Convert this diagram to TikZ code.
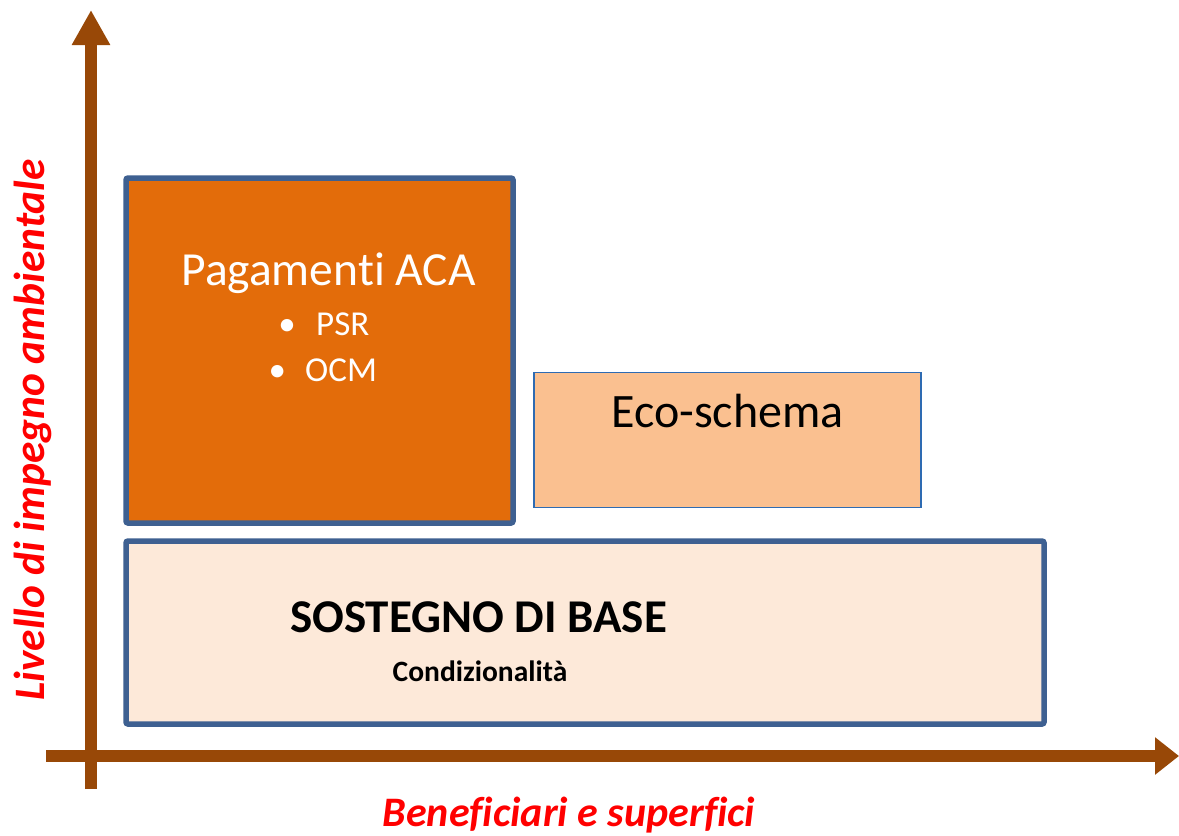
\documentclass[tikz,border=0pt]{standalone}
\usepackage{fontspec}
\setmainfont[Ligatures=CommonOff]{Carlito}
\usetikzlibrary{arrows.meta}
\definecolor{axisbrown}{HTML}{984807}
\definecolor{acaorange}{HTML}{E36C0A}
\definecolor{boxblue}{HTML}{3E6091}
\definecolor{ecoblue}{HTML}{2E6BB2}
\definecolor{ecofill}{HTML}{FAC090}
\definecolor{basefill}{HTML}{FDE9D9}
\definecolor{labelred}{HTML}{FF0000}
\tikzset{
  axisline/.style={draw=axisbrown, line width=12pt},
  bigbox/.style={draw=boxblue, line width=5.5pt, rounded corners=2pt, anchor=north west, inner sep=0pt, outer sep=0pt},
  ecobox/.style={draw=ecoblue, line width=1.4pt, fill=ecofill, anchor=north west, inner sep=0pt, outer sep=0pt},
  axislabel/.style={text=labelred, font=\fontsize{42}{46}\selectfont\bfseries\itshape, inner sep=0pt},
  txt/.style={inner sep=0pt, anchor=base},
  acatxt/.style={txt, text=white, font=\fontsize{35}{40}\selectfont}
}
\begin{document}
\begin{tikzpicture}[x=1pt,y=-1pt]
\useasboundingbox (0,0) rectangle (1179,836);
% axes
\coordinate (ybot) at (91,789);
\coordinate (ytop) at (91,10);
\coordinate (xleft) at (46,756);
\coordinate (xright) at (1179,756);
\draw[axisline, -{Triangle[length=35pt,width=36pt]}] (ybot) -- (ytop);
\draw[axisline, -{Triangle[length=24pt,width=36pt]}] (xleft) -- (xright);
% boxes
\node[bigbox, fill=acaorange, minimum width=387pt, minimum height=345pt] (aca) at (126,178) {};
\node[ecobox, minimum width=387pt, minimum height=135pt] (eco) at (534,372.5) {};
\node[bigbox, fill=basefill, minimum width=918pt, minimum height=183pt] (base) at (126,541) {};
% texts
\node[txt, text=white, font=\fontsize{47.5}{52}\selectfont] (acatitle) at (328.5,285) {Pagamenti ACA};
\node[acatxt] (psrbullet) at (287,335) {\textbullet};
\node[acatxt, anchor=base west] (psr) at (316,335) {PSR};
\node[acatxt] (ocmbullet) at (277.3,381.7) {\textbullet};
\node[acatxt, anchor=base west] (ocm) at (305,381.7) {OCM};
\node[txt, font=\fontsize{48}{52}\selectfont] (ecotitle) at (727.5,427) {Eco-schema};
\node[txt, font=\fontsize{47}{51}\selectfont\bfseries] (basetitle) at (478.5,632) {SOSTEGNO DI BASE};
\node[txt, font=\fontsize{29.5}{33}\selectfont\bfseries] (cond) at (480,681) {Condizionalità};
\node[axislabel, anchor=base] (xlabel) at (569,826.5) {Beneficiari e superfici};
\node[axislabel, anchor=base, rotate=90, font=\fontsize{43.4}{47}\selectfont\bfseries\itshape] (ylabel) at (45,430) {Livello di impegno ambientale};
\end{tikzpicture}
\end{document}
